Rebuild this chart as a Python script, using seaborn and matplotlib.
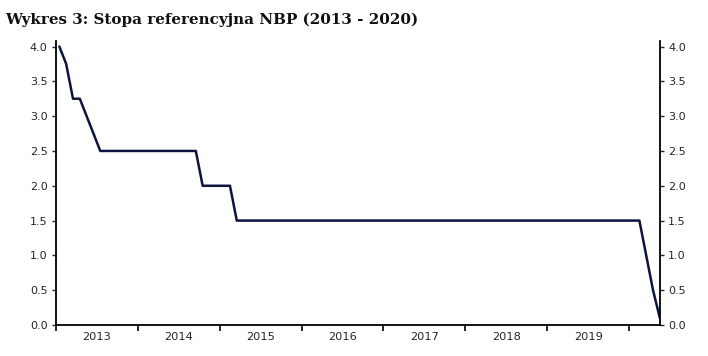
import seaborn as sns
import matplotlib.pyplot as plt
import pandas as pd

# monthly NBP reference rate, Jan 2013 - May 2020
rate_2013 = [4.0, 3.75, 3.25, 3.25, 3.0, 2.75, 2.5, 2.5, 2.5, 2.5, 2.5, 2.5]
rate_2014 = [2.5, 2.5, 2.5, 2.5, 2.5, 2.5, 2.5, 2.5, 2.5, 2.0, 2.0, 2.0]
rate_2015 = [2.0, 2.0, 1.5, 1.5, 1.5, 1.5, 1.5, 1.5, 1.5, 1.5, 1.5, 1.5]
rate_2016 = [1.5, 1.5, 1.5, 1.5, 1.5, 1.5, 1.5, 1.5, 1.5, 1.5, 1.5, 1.5]
rate_2017 = [1.5, 1.5, 1.5, 1.5, 1.5, 1.5, 1.5, 1.5, 1.5, 1.5, 1.5, 1.5]
rate_2018 = [1.5, 1.5, 1.5, 1.5, 1.5, 1.5, 1.5, 1.5, 1.5, 1.5, 1.5, 1.5]
rate_2019 = [1.5, 1.5, 1.5, 1.5, 1.5, 1.5, 1.5, 1.5, 1.5, 1.5, 1.5, 1.5]
rate_2020 = [1.5, 1.5, 1.0, 0.5, 0.1]
year_labels = ['2013', '2014', '2015', '2016', '2017', '2018', '2019']
y_ticks = [0.0, 0.5, 1.0, 1.5, 2.0, 2.5, 3.0, 3.5, 4.0]

rates = rate_2013 + rate_2014 + rate_2015 + rate_2016 + rate_2017 + rate_2018 + rate_2019 + rate_2020
df = pd.DataFrame({'month': range(len(rates)), 'rate': rates})

sns.set_style('white')
plt.rcParams['font.family'] = ['DejaVu Sans']

fig = plt.figure(figsize=(7.08, 3.56), dpi=100)
ax = fig.add_axes([0.079, 0.087, 0.853, 0.798])
sns.lineplot(data=df, x='month', y='rate', ax=ax, color='#0d1440', linewidth=1.8)

ax.set_xlim(-0.5, len(rates) - 1)
ax.set_ylim(0, 4.08)
ax.set_xlabel('')
ax.set_ylabel('')

# year boundaries as ticks, labels centred between them
ax.set_xticks([i * 12 - 0.5 for i in range(len(year_labels) + 1)])
ax.set_xticklabels([])
ax.set_xticks([i * 12 + 5.5 for i in range(len(year_labels))], minor=True)
ax.set_xticklabels(year_labels, minor=True)
ax.tick_params(axis='x', which='major', direction='out', length=4, width=1.2, color='black', bottom=True)
ax.tick_params(axis='x', which='minor', length=0, labelsize=8.2, pad=5)

ax.set_yticks(y_ticks)
ax.set_yticklabels([f'{v:.1f}' for v in y_ticks])
ax.tick_params(axis='y', direction='out', length=3, width=1, labelsize=8,
               left=True, right=True, labelleft=True, labelright=True, pad=3)

sns.despine(ax=ax, top=True, right=False)
for s in ['left', 'bottom', 'right']:
    ax.spines[s].set_color('black')
    ax.spines[s].set_linewidth(1.3)

fig.text(0.007, 0.932, 'Wykres 3: Stopa referencyjna NBP (2013 - 2020)',
         family='DejaVu Serif', fontweight='bold', fontsize=10.9, color='#111111')

plt.savefig('out.png', dpi=100)
